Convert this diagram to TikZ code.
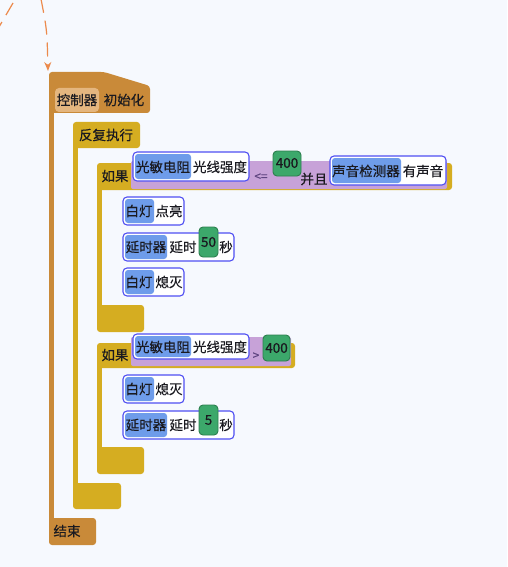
\documentclass[tikz,border=0pt]{standalone}
\usepackage{fontspec}
\newfontfamily\cjk[FakeBold=0.4]{Noto Sans CJK SC}
\usetikzlibrary{arrows.meta}
\definecolor{bgC}{HTML}{F6F9FE}
\definecolor{orangeC}{HTML}{C98A39}
\definecolor{orangeL}{HTML}{E4B67F}
\definecolor{yellowC}{HTML}{D5AD21}
\definecolor{purpleC}{HTML}{C7A2D8}
\definecolor{blueF}{HTML}{6E9CEA}
\definecolor{blueO}{HTML}{4F4FF2}
\definecolor{greenF}{HTML}{3CA86B}
\definecolor{greenD}{HTML}{2C7F4E}
\definecolor{arrowC}{HTML}{EC8A4C}
\definecolor{txtC}{HTML}{1A1A20}
\definecolor{opC}{HTML}{5E4480}
\tikzset{
  t/.style={font=\cjk\fontsize{13.5}{14}\selectfont, inner sep=0pt, text=txtC},
  optxt/.style={font=\cjk\fontsize{12}{12}\selectfont, inner sep=0pt, text=opC},
  sensorbox/.style={draw=blueO, line width=1.1pt, fill=white, rounded corners=4pt},
  bluepart/.style={fill=blueF, rounded corners=3pt},
  numbox/.style={fill=greenF, draw=greenD, line width=0.9pt, rounded corners=4pt},
  flow/.style={dashed, dash pattern=on 14pt off 8pt, draw=arrowC, line width=1.2pt},
}
\begin{document}
\begin{tikzpicture}[x=1pt,y=-1pt]
\useasboundingbox[fill=bgC] (0,0) rectangle (507,567);

% dashed flow lines
\coordinate (src) at (41,-1);
\coordinate (hattop) at (48,71);
\coordinate (s2a) at (13,3);
\coordinate (s2b) at (-1,27);
\draw[flow, -{Stealth[length=9pt,width=7pt]}] (src) .. controls (47,30) .. (hattop);
\draw[flow] (s2a) -- (s2b);

% controller (orange) C-shape
\fill[orangeC] (49,100) rectangle (54,530);
\fill[orangeC, rounded corners=3pt] (49,72) -- (104,72) -- (150,86) -- (150,113) -- (49,113) -- cycle;
\fill[orangeC, rounded corners=3pt] (49,518) rectangle (96,545);
\fill[orangeL, rounded corners=4pt] (55,88) rectangle (99,112);
\node[t] (ctrl) at (77,100) {控制器};
\node[t] (init) at (124,100) {初始化};
\node[t] (endtxt) at (67,531) {结束};

% repeat (yellow)
\fill[yellowC] (73,140) rectangle (78,495);
\fill[yellowC, rounded corners=3pt] (73,122) rectangle (140,148);
\fill[yellowC, rounded corners=3pt] (73,483) rectangle (121,509);
\node[t] (rep) at (106,135) {反复执行};

% if 1
\fill[yellowC] (97,180) rectangle (102,320);
\fill[yellowC, rounded corners=3pt] (97,163) rectangle (452,190);
\fill[yellowC, rounded corners=3pt] (97,305) rectangle (144,332);
\fill[purpleC, rounded corners=2pt] (131,161) rectangle (447,189);
\node[t] (if1) at (115,176) {如果};
\draw[sensorbox] (133,152) rectangle (249,181);
\fill[bluepart] (135,154) rectangle (191,179);
\node[t] (s1a) at (163,167) {光敏电阻};
\node[t] (s1b) at (220,167) {光线强度};
\node[optxt] (op1) at (261,177) {<=};
\draw[numbox] (273,151) rectangle (301,176);
\node[t] (n1) at (287,163) {400};
\node[t] (and) at (314,179) {并且};
\draw[sensorbox] (330,156) rectangle (446,185);
\fill[bluepart] (332,158) rectangle (401,183);
\node[t] (s2x) at (366,171) {声音检测器};
\node[t] (s2y) at (423,171) {有声音};

\draw[sensorbox] (123,197) rectangle (184,225);
\fill[bluepart] (125,199) rectangle (154,223);
\node[t] (l1a) at (139,211) {白灯};
\node[t] (l1b) at (169,211) {点亮};

\draw[sensorbox] (123,233) rectangle (234,261);
\fill[bluepart] (125,235) rectangle (167,259);
\node[t] (d1a) at (146,247) {延时器};
\node[t] (d1b) at (183,247) {延时};
\draw[numbox] (199,227) rectangle (218,257);
\node[t] (d1n) at (208.5,242) {50};
\node[t] (d1c) at (226,247) {秒};

\draw[sensorbox] (123,268) rectangle (184,296);
\fill[bluepart] (125,270) rectangle (154,294);
\node[t] (l2a) at (139,282) {白灯};
\node[t] (l2b) at (169,282) {熄灭};

% if 2
\fill[yellowC] (97,355) rectangle (102,460);
\fill[yellowC, rounded corners=3pt] (97,343) rectangle (295,368);
\fill[yellowC, rounded corners=3pt] (97,447) rectangle (144,474);
\fill[purpleC, rounded corners=2pt] (131,337) rectangle (291,366);
\node[t] (if2) at (115,355) {如果};
\draw[sensorbox] (133,334) rectangle (249,359);
\fill[bluepart] (135,336) rectangle (191,357);
\node[t] (s3a) at (163,347) {光敏电阻};
\node[t] (s3b) at (220,347) {光线强度};
\node[optxt] (op2) at (256,356) {>};
\draw[numbox] (263,335) rectangle (290,361);
\node[t] (n2) at (276.5,348) {400};

\draw[sensorbox] (123,375) rectangle (184,403);
\fill[bluepart] (125,377) rectangle (154,401);
\node[t] (l3a) at (139,389) {白灯};
\node[t] (l3b) at (169,389) {熄灭};

\draw[sensorbox] (123,411) rectangle (234,439);
\fill[bluepart] (125,413) rectangle (167,437);
\node[t] (d2a) at (146,425) {延时器};
\node[t] (d2b) at (183,425) {延时};
\draw[numbox] (199,405) rectangle (218,435);
\node[t] (d2n) at (208.5,420) {5};
\node[t] (d2c) at (226,425) {秒};
\end{tikzpicture}
\end{document}
